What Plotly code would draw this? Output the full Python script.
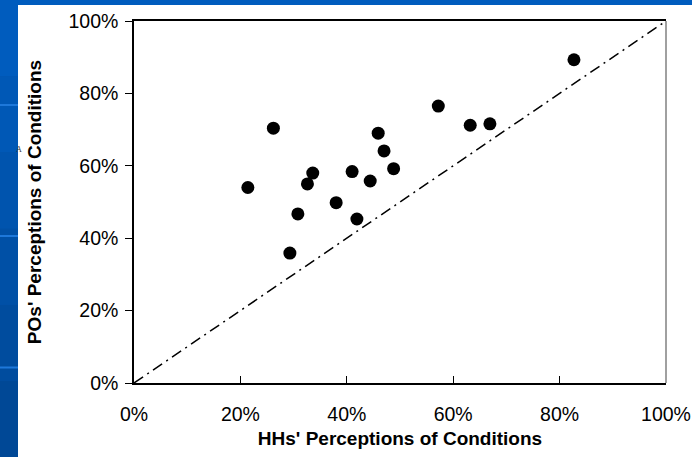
import plotly.graph_objects as go

# HHs' perceptions (x, %) and POs' perceptions (y, %)
hh_perceptions = [26.2, 21.4, 33.6, 32.6, 30.8, 29.3, 38.0, 41.0, 41.9, 44.4,
                  45.9, 47.0, 48.8, 57.2, 63.2, 66.9, 82.7]
po_perceptions = [70.4, 54.0, 58.0, 55.0, 46.7, 35.9, 49.8, 58.4, 45.3, 55.8,
                  69.0, 64.1, 59.2, 76.5, 71.2, 71.6, 89.3]
equality_line = [0, 100]
tick_values = [0, 20, 40, 60, 80, 100]
tick_labels = ["0%", "20%", "40%", "60%", "80%", "100%"]

W, H = 692, 457
L, R, T, B = 134, 26, 21, 74
pw, ph = W - L - R, H - T - B

def px_x(x):
    return (x - L) / pw

def px_y(y):
    return (H - B - y) / ph

fig = go.Figure()
fig.add_trace(go.Scatter(x=equality_line, y=equality_line, mode="lines",
                         line=dict(color="black", width=1.5, dash="11px,5px,2px,5px"),
                         hoverinfo="skip", showlegend=False))
fig.add_trace(go.Scatter(x=hh_perceptions, y=po_perceptions, mode="markers",
                         marker=dict(color="black", size=13),
                         showlegend=False))

shapes = []
# blue background gradient bands on the left / top
shades = ["#005cbe", "#0058b6", "#0054ae", "#0050a6", "#004c9e", "#004896"]
n = len(shades)
for i, c in enumerate(shades):
    shapes.append(dict(type="rect", xref="paper", yref="paper", layer="below",
                       x0=px_x(0), x1=px_x(W),
                       y0=px_y(H * (i + 1) / n), y1=px_y(H * i / n),
                       fillcolor=c, line_width=0))
for yy in [105, 236, 367.5]:
    shapes.append(dict(type="rect", xref="paper", yref="paper", layer="below",
                       x0=px_x(0), x1=px_x(18), y0=px_y(yy + 1), y1=px_y(yy - 1),
                       fillcolor="#1e78da", line_width=0))
# white slide panel
shapes.append(dict(type="rect", xref="paper", yref="paper", layer="below",
                   x0=px_x(18), x1=px_x(W + 5), y0=px_y(H + 5), y1=px_y(5),
                   fillcolor="white", line_width=0))
# right border (gray)
shapes.append(dict(type="line", xref="paper", yref="paper",
                   x0=1, x1=1, y0=0, y1=1, line=dict(color="#808080", width=1.5)))

font = "Liberation Sans, Arial, sans-serif"
fig.update_layout(
    width=W, height=H,
    margin=dict(l=L, r=R, t=T, b=B, autoexpand=False),
    paper_bgcolor="#0054ae", plot_bgcolor="rgba(0,0,0,0)",
    font=dict(family=font, color="black"),
    shapes=shapes,
    annotations=[dict(text="A", x=px_x(14), y=px_y(149), xref="paper", yref="paper",
                      showarrow=False, font=dict(size=8, color="#333", family="Liberation Serif"))],
    xaxis=dict(range=[0, 100], tickvals=tick_values, ticktext=tick_labels,
               automargin=False,
               showgrid=False, zeroline=False, showline=True, mirror=True,
               linecolor="black", linewidth=1.5, ticks="inside", ticklen=7,
               tickcolor="black", tickwidth=1, ticklabelstandoff=13,
               tickfont=dict(size=19.5, family=font, color="black"),
               title=dict(text="<b>HHs' Perceptions of Conditions</b>", standoff=8,
                          font=dict(size=19, family=font, color="black"))),
    yaxis=dict(range=[0, 100], tickvals=tick_values, ticktext=tick_labels,
               automargin=False,
               showgrid=False, zeroline=False, showline=True,
               linecolor="black", linewidth=1.5, ticks="outside", ticklen=7,
               tickcolor="black", tickwidth=1, ticklabelstandoff=3,
               tickfont=dict(size=19.5, family=font, color="black"),
               title=dict(text="<b>POs' Perceptions of Conditions</b>", standoff=22,
                          font=dict(size=19, family=font, color="black"))),
)

fig.write_html("out.html", config={"displayModeBar": False},
               post_script="document.body.style.margin='0';document.body.style.overflow='hidden';")
